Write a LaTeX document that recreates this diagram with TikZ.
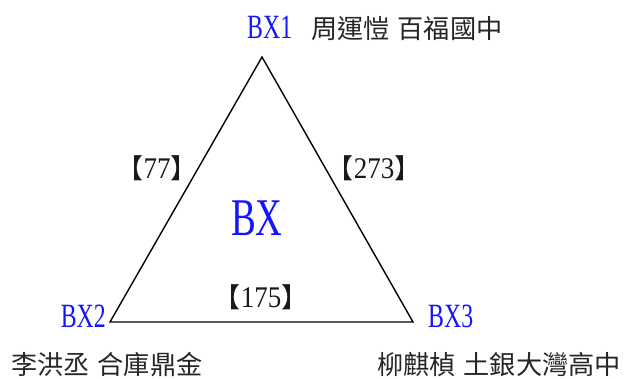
\documentclass[tikz,border=0pt]{standalone}
\usepackage{fontspec}
\setmainfont{Liberation Serif}
\newfontfamily\cjk{Noto Sans CJK TC}
\newfontfamily\narrowlat[FakeStretch=0.7]{Liberation Serif}
\newfontfamily\digitlat[FakeStretch=0.9]{Liberation Serif}
\definecolor{bxblue}{RGB}{20,20,255}
\newcommand{\lbr}{{\cjk\fontsize{27}{27}\selectfont 【}}
\newcommand{\rbr}{{\cjk\fontsize{27}{27}\selectfont 】}}
\begin{document}
\begin{tikzpicture}[x=1pt,y=-1pt,
  vlabel/.style={text=bxblue,font=\fontsize{34}{34}\narrowlat,inner sep=0pt},
  namelabel/.style={text=black!85,font=\fontsize{26.2}{27}\cjk,inner sep=0pt},
  elabel/.style={text=black!90,inner sep=0pt,font=\fontsize{30}{30}\digitlat},
  edge/.style={draw=black,line width=1.4pt,line join=miter}]
\useasboundingbox (0,0) rectangle (626,378);
\coordinate (t) at (262,57);
\coordinate (l) at (110,322);
\coordinate (r) at (413,322);
\draw[edge] (t) -- (l) -- (r) -- cycle;
\node[vlabel,anchor=base west] (bx1) at (247,38) {BX1};
\node[namelabel,anchor=base west] (n1) at (311,38) {周運愷\hspace{0.3em}百福國中};
\node[vlabel,anchor=base east] (bx2) at (106,327) {BX2};
\node[vlabel,anchor=base west] (bx3) at (428,327) {BX3};
\node[namelabel,anchor=base west] (n2) at (11,374) {李洪丞\hspace{0.3em}合庫鼎金};
\node[namelabel,anchor=base west] (n3) at (377,374) {柳麒楨\hspace{0.3em}土銀大灣高中};
\node[elabel,anchor=base] (e1) at (157,178) {\lbr 77\rbr};
\node[elabel,anchor=base] (e2) at (374,178) {\lbr 273\rbr};
\node[elabel,anchor=base] (e3) at (261,307) {\lbr 175\rbr};
\node[text=bxblue,inner sep=0pt,font=\fontsize{53}{53}\narrowlat,anchor=base] (bx) at (257,235) {BX};
\end{tikzpicture}
\end{document}
